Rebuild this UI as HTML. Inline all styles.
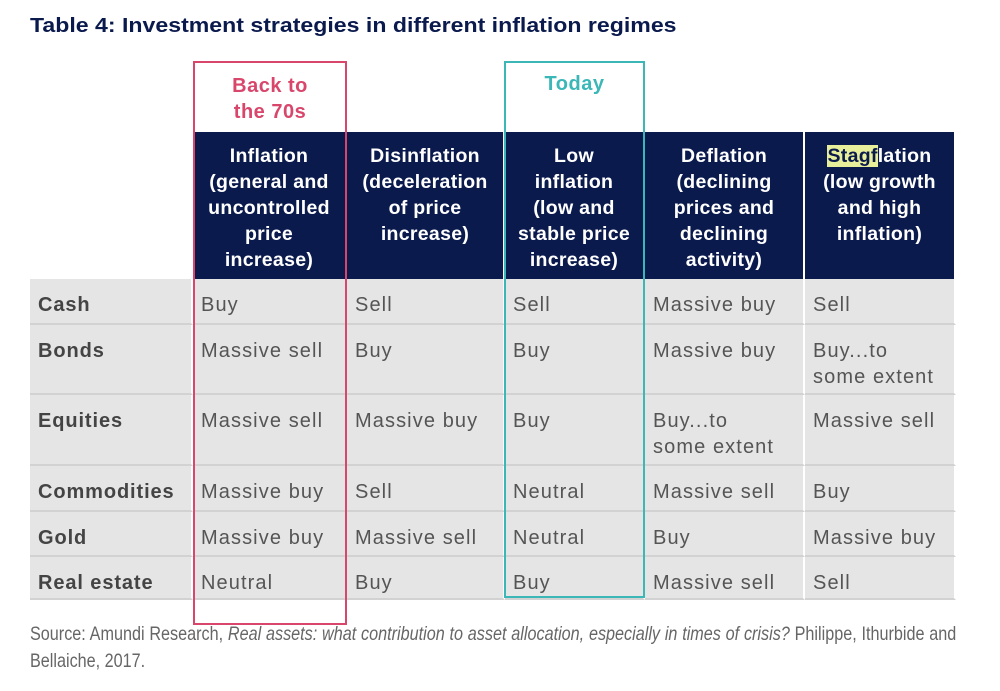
<!DOCTYPE html>
<html><head><meta charset="utf-8"><style>
body{margin:0;width:1000px;height:691px;background:#fff;position:relative;overflow:hidden;font-family:"Liberation Sans",sans-serif}
.a{position:absolute;box-sizing:border-box}
.h{background:#0b1a4d;color:#fff;font-size:19.5px;font-weight:bold;letter-spacing:0.3px;line-height:26px;text-align:center;padding-top:11px;border-right:2px solid #fff;white-space:nowrap}
.c{background:#e5e5e5;color:#555;font-size:20px;letter-spacing:1.1px;line-height:26px;padding:13px 0 0 8px;border-right:2px solid #fff;border-bottom:2px solid #d2d2d2;white-space:nowrap}
.l{font-weight:bold;color:#444;padding-left:8px;letter-spacing:0.9px}
</style></head><body>
<div class="a" style="left:30px;top:15px;font-size:20px;font-weight:bold;color:#0b1a4d;transform:scaleX(1.155);transform-origin:0 0;white-space:nowrap">Table 4: Investment strategies in different inflation regimes</div>
<div id="t"></div>
<div class="a" style="left:193px;top:61px;width:154px;height:564px;border:2px solid #d9466b"></div>
<div class="a" style="left:193px;top:73px;width:154px;text-align:center;color:#d9466b;font-size:20px;font-weight:bold;letter-spacing:0.5px;line-height:26px">Back to<br>the 70s</div>
<div class="a" style="left:504px;top:61px;width:141px;height:537px;border:2px solid #3bb7b7"></div>
<div class="a" style="left:504px;top:73px;width:141px;text-align:center;color:#3bb7b7;font-size:20px;font-weight:bold;letter-spacing:0.5px">Today</div>
<div class="a" style="left:30px;top:621px;width:1116px;transform:scaleX(0.83);transform-origin:0 0;color:#666;font-size:19.5px;line-height:27px;text-align:justify;text-align-last:left">Source: Amundi Research, <i>Real assets: what contribution to asset allocation, especially in times of crisis?</i> Philippe, Ithurbide and Bellaiche, 2017.</div>
<script>
const xs=[30,193,347,505,645,805,956];
const ys=[132,279,325,395,466,512,557,600];
const heads=["Inflation<br>(general and<br>uncontrolled<br>price<br>increase)","Disinflation<br>(deceleration<br>of price<br>increase)","Low<br>inflation<br>(low and<br>stable price<br>increase)","Deflation<br>(declining<br>prices and<br>declining<br>activity)","<span style='background:#e8ef9a;color:#0b1a4d'>Stagf</span>lation<br>(low growth<br>and high<br>inflation)"];
const rows=["Cash","Bonds","Equities","Commodities","Gold","Real estate"];
const vals=[["Buy","Sell","Sell","Massive buy","Sell"],["Massive sell","Buy","Buy","Massive buy","Buy...to<br>some extent"],["Massive sell","Massive buy","Buy","Buy...to<br>some extent","Massive sell"],["Massive buy","Sell","Neutral","Massive sell","Buy"],["Massive buy","Massive sell","Neutral","Buy","Massive buy"],["Neutral","Buy","Buy","Massive sell","Sell"]];
const t=document.getElementById('t');
function mk(cls,x,y,w,h,html){const d=document.createElement('div');d.className='a '+cls;d.style.cssText=`left:${x}px;top:${y}px;width:${w}px;height:${h}px`;d.innerHTML=html;t.appendChild(d);return d;}
heads.forEach((h,i)=>{const d=mk('h',xs[i+1],ys[0],xs[i+2]-xs[i+1],ys[1]-ys[0],h);

});
rows.forEach((r,j)=>{const d=mk('c l',xs[0],ys[j+1],xs[1]-xs[0],ys[j+2]-ys[j+1],r);


vals[j].forEach((v,i)=>{const e=mk('c',xs[i+1],ys[j+1],xs[i+2]-xs[i+1],ys[j+2]-ys[j+1],v);

});});
</script>
</body></html>
